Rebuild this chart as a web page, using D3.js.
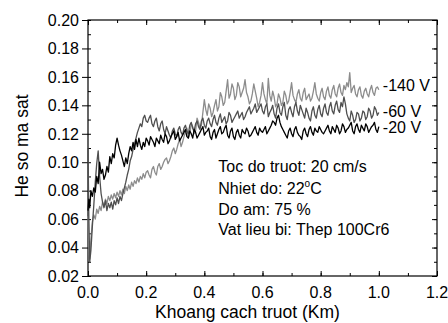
<!DOCTYPE html>
<html>
<head>
<meta charset="utf-8">
<script src="https://cdn.jsdelivr.net/npm/d3@7/dist/d3.min.js"></script>
<style>
  body { margin: 0; background: #fff; }
  text { font-family: "Liberation Sans", Arial, sans-serif; fill: #000; }
</style>
</head>
<body>
<div id="chart"></div>
<script>
// distance (Km)
const distance = [
  0, 0.003, 0.006, 0.01, 0.015, 0.02, 0.025, 0.03, 0.035, 0.04, 0.045, 0.05, 0.055, 0.06, 0.065,
  0.07, 0.075, 0.08, 0.085, 0.09, 0.095, 0.1, 0.105, 0.11, 0.115, 0.12, 0.125, 0.13, 0.135, 0.14,
  0.145, 0.15, 0.155, 0.16, 0.165, 0.17, 0.175, 0.18, 0.185, 0.19, 0.195, 0.2,
  0.205, 0.21, 0.215, 0.22, 0.225, 0.23, 0.235, 0.24, 0.245, 0.25, 0.255, 0.26, 0.265, 0.27, 0.275, 0.28, 0.285, 0.29, 0.295, 0.30,
  0.305, 0.31, 0.315, 0.32, 0.325, 0.33, 0.335, 0.34, 0.345, 0.35, 0.355, 0.36, 0.365, 0.37, 0.375, 0.38, 0.385, 0.39, 0.395, 0.40,
  0.405, 0.41, 0.415, 0.42, 0.425, 0.43, 0.435, 0.44, 0.445, 0.45, 0.455, 0.46, 0.465, 0.47, 0.475, 0.48, 0.485, 0.49, 0.495, 0.50,
  0.505, 0.51, 0.515, 0.52, 0.525, 0.53, 0.535, 0.54, 0.545, 0.55, 0.555, 0.56, 0.565, 0.57, 0.575, 0.58, 0.585, 0.59, 0.595, 0.60,
  0.605, 0.61, 0.615, 0.62, 0.625, 0.63, 0.635, 0.64, 0.645, 0.65, 0.655, 0.66, 0.665, 0.67, 0.675, 0.68, 0.685, 0.69, 0.695, 0.70,
  0.705, 0.71, 0.715, 0.72, 0.725, 0.73, 0.735, 0.74, 0.745, 0.75, 0.755, 0.76, 0.765, 0.77, 0.775, 0.78, 0.785, 0.79, 0.795, 0.80,
  0.805, 0.81, 0.815, 0.82, 0.825, 0.83, 0.835, 0.84, 0.845, 0.85, 0.855, 0.86, 0.865, 0.87, 0.875, 0.88, 0.885, 0.89, 0.895, 0.90,
  0.905, 0.91, 0.915, 0.92, 0.925, 0.93, 0.935, 0.94, 0.945, 0.95, 0.955, 0.96, 0.965, 0.97, 0.975, 0.98, 0.985, 0.99, 0.995, 1.00
];

// -140 V
const mu140 = [
  0.062, 0.040, 0.032, 0.046, 0.058, 0.063, 0.060, 0.067, 0.064, 0.069, 0.066, 0.072, 0.069, 0.074,
  0.071, 0.076, 0.073, 0.077, 0.074, 0.078, 0.075, 0.079, 0.076, 0.080, 0.077, 0.081, 0.078, 0.083,
  0.080, 0.084, 0.081, 0.086, 0.083, 0.087, 0.085, 0.089, 0.086, 0.090, 0.088, 0.092, 0.089, 0.093,
  0.094, 0.091, 0.089, 0.095, 0.097, 0.093, 0.091, 0.097, 0.099, 0.095, 0.097, 0.100, 0.102, 0.103, 0.099, 0.101, 0.104, 0.108, 0.110, 0.106,
  0.109, 0.113, 0.116, 0.111, 0.114, 0.118, 0.121, 0.124, 0.117, 0.120, 0.127, 0.125, 0.120, 0.122, 0.131, 0.128, 0.124, 0.126, 0.135, 0.144,
  0.137, 0.133, 0.141, 0.138, 0.132, 0.135, 0.140, 0.144, 0.136, 0.139, 0.149, 0.146, 0.140, 0.142, 0.150, 0.158, 0.145, 0.148, 0.155, 0.152,
  0.144, 0.147, 0.156, 0.153, 0.146, 0.149, 0.152, 0.158, 0.149, 0.146, 0.141, 0.143, 0.148, 0.155, 0.150, 0.145, 0.139, 0.142, 0.147, 0.156,
  0.148, 0.144, 0.141, 0.159, 0.147, 0.143, 0.150, 0.146, 0.139, 0.141, 0.148, 0.145, 0.140, 0.142, 0.150, 0.147, 0.141, 0.143, 0.149, 0.156,
  0.147, 0.144, 0.142, 0.148, 0.151, 0.145, 0.143, 0.149, 0.152, 0.144, 0.146, 0.148, 0.143, 0.145, 0.150, 0.156, 0.148, 0.145, 0.143, 0.149,
  0.152, 0.146, 0.144, 0.150, 0.153, 0.147, 0.145, 0.151, 0.154, 0.148, 0.146, 0.152, 0.155, 0.149, 0.147, 0.154, 0.151, 0.156, 0.153, 0.163,
  0.149, 0.152, 0.154, 0.148, 0.146, 0.151, 0.153, 0.147, 0.145, 0.150, 0.152, 0.148, 0.146, 0.151, 0.154, 0.149, 0.147, 0.152, 0.153, 0.151
];

// -60 V
const mu60 = [
  0.110, 0.060, 0.030, 0.038, 0.055, 0.070, 0.086, 0.099, 0.108, 0.090, 0.078, 0.072, 0.068, 0.073,
  0.066, 0.071, 0.068, 0.072, 0.067, 0.073, 0.070, 0.075, 0.071, 0.076, 0.073, 0.078, 0.082, 0.086,
  0.091, 0.095, 0.101, 0.104, 0.109, 0.113, 0.117, 0.121, 0.124, 0.127, 0.125, 0.131, 0.133, 0.129,
  0.128, 0.131, 0.133, 0.127, 0.125, 0.129, 0.131, 0.125, 0.122, 0.127, 0.129, 0.123, 0.120, 0.125, 0.122, 0.119, 0.117, 0.122, 0.124, 0.120,
  0.118, 0.123, 0.125, 0.121, 0.119, 0.124, 0.126, 0.122, 0.120, 0.126, 0.128, 0.124, 0.122, 0.127, 0.129, 0.125, 0.123, 0.129, 0.131, 0.126,
  0.124, 0.129, 0.131, 0.127, 0.125, 0.130, 0.133, 0.128, 0.126, 0.131, 0.134, 0.128, 0.130, 0.132, 0.127, 0.129, 0.135, 0.133, 0.128, 0.130,
  0.132, 0.134, 0.136, 0.131, 0.133, 0.135, 0.130, 0.132, 0.135, 0.137, 0.139, 0.134, 0.136, 0.138, 0.141, 0.135, 0.137, 0.139, 0.141, 0.136,
  0.134, 0.139, 0.141, 0.132, 0.135, 0.137, 0.140, 0.134, 0.131, 0.138, 0.141, 0.135, 0.133, 0.139, 0.142, 0.133, 0.130, 0.137, 0.139, 0.135,
  0.132, 0.139, 0.142, 0.136, 0.133, 0.140, 0.137, 0.134, 0.131, 0.138, 0.135, 0.131, 0.129, 0.136, 0.139, 0.133, 0.131, 0.137, 0.140, 0.134,
  0.132, 0.138, 0.141, 0.135, 0.133, 0.139, 0.142, 0.136, 0.134, 0.140, 0.143, 0.137, 0.135, 0.142, 0.139, 0.146, 0.141, 0.134, 0.131, 0.129,
  0.136, 0.133, 0.128, 0.130, 0.135, 0.134, 0.129, 0.131, 0.136, 0.135, 0.130, 0.132, 0.138, 0.136, 0.131, 0.133, 0.139, 0.137, 0.133, 0.135
];

// -20 V
const mu20 = [
  0.066, 0.074, 0.068, 0.080, 0.076, 0.082, 0.079, 0.090, 0.085, 0.100, 0.092, 0.095, 0.088, 0.091,
  0.097, 0.093, 0.104, 0.099, 0.106, 0.103, 0.112, 0.117, 0.112, 0.108, 0.105, 0.101, 0.097, 0.103,
  0.099, 0.106, 0.111, 0.108, 0.114, 0.109, 0.116, 0.111, 0.117, 0.112, 0.109, 0.114, 0.111, 0.117,
  0.115, 0.112, 0.118, 0.116, 0.114, 0.111, 0.117, 0.115, 0.113, 0.119, 0.116, 0.114, 0.120, 0.118, 0.113, 0.115, 0.118, 0.120, 0.122, 0.116,
  0.118, 0.121, 0.115, 0.117, 0.119, 0.121, 0.123, 0.118, 0.117, 0.122, 0.120, 0.117, 0.123, 0.121, 0.117, 0.119, 0.121, 0.123, 0.125, 0.119,
  0.121, 0.122, 0.124, 0.118, 0.116, 0.121, 0.123, 0.117, 0.120, 0.123, 0.125, 0.120, 0.121, 0.124, 0.126, 0.119, 0.117, 0.122, 0.124, 0.118,
  0.116, 0.121, 0.123, 0.119, 0.117, 0.123, 0.121, 0.120, 0.124, 0.122, 0.118, 0.119, 0.121, 0.123, 0.125, 0.121, 0.119, 0.124, 0.122, 0.121,
  0.123, 0.125, 0.120, 0.122, 0.124, 0.126, 0.129, 0.128, 0.126, 0.131, 0.133, 0.128, 0.125, 0.123, 0.121, 0.119, 0.117, 0.122, 0.124, 0.120,
  0.118, 0.123, 0.125, 0.121, 0.119, 0.118, 0.116, 0.122, 0.124, 0.120, 0.118, 0.123, 0.125, 0.121, 0.119, 0.124, 0.122, 0.121, 0.125, 0.123,
  0.121, 0.120, 0.122, 0.124, 0.126, 0.122, 0.120, 0.125, 0.123, 0.121, 0.126, 0.124, 0.120, 0.122, 0.127, 0.125, 0.121, 0.123, 0.124, 0.126,
  0.128, 0.122, 0.120, 0.125, 0.127, 0.123, 0.121, 0.126, 0.124, 0.122, 0.127, 0.125, 0.121, 0.123, 0.125, 0.126, 0.128, 0.123, 0.121, 0.125
];

const seriesNames = ["-140 V", "-60 V", "-20 V"];
const xTicks = [0, 0.2, 0.4, 0.6, 0.8, 1.0, 1.2];
const yTicks = [0.02, 0.04, 0.06, 0.08, 0.10, 0.12, 0.14, 0.16, 0.18, 0.20];
const notes = ["Toc do truot: 20 cm/s", "Nhiet do: 22", "Do am: 75 %", "Vat lieu bi: Thep 100Cr6"];

const width = 448, height = 323;
const margin = {top: 20, right: 11, bottom: 47, left: 88};
const w = width - margin.left - margin.right;
const h = height - margin.top - margin.bottom;

const svg = d3.select("#chart").append("svg")
  .attr("width", width)
  .attr("height", height);

const g = svg.append("g").attr("transform", `translate(${margin.left},${margin.top})`);

const x = d3.scaleLinear().domain([0, 1.2]).range([0, w]);
const y = d3.scaleLinear().domain([0.02, 0.20]).range([h, 0]);

const xMinor = d3.range(0, 1.21, 0.1);
const yMinor = d3.range(0.02, 0.2001, 0.01);

// frame + ticks
function tickAxis(axis, sel) {
  sel.call(axis);
  sel.select(".domain").remove();
  sel.selectAll("line").attr("stroke", "#000");
}

// bottom: ticks pointing in
tickAxis(d3.axisBottom(x).tickValues(xMinor).tickSize(-3).tickFormat(""),
  g.append("g").attr("transform", `translate(0,${h})`));
tickAxis(d3.axisBottom(x).tickValues(xTicks).tickSize(-5).tickFormat(""),
  g.append("g").attr("transform", `translate(0,${h})`));
// top
tickAxis(d3.axisTop(x).tickValues(xMinor).tickSize(-3).tickFormat(""), g.append("g"));
tickAxis(d3.axisTop(x).tickValues(xTicks).tickSize(-5).tickFormat(""), g.append("g"));
// left: major out, minor in
tickAxis(d3.axisLeft(y).tickValues(yMinor).tickSize(-3).tickFormat(""), g.append("g"));
tickAxis(d3.axisLeft(y).tickValues(yTicks).tickSize(6).tickFormat(""), g.append("g"));
// right
tickAxis(d3.axisRight(y).tickValues(yMinor).tickSize(-3).tickFormat(""),
  g.append("g").attr("transform", `translate(${w},0)`));
tickAxis(d3.axisRight(y).tickValues(yTicks).tickSize(-5).tickFormat(""),
  g.append("g").attr("transform", `translate(${w},0)`));

g.append("rect")
  .attr("width", w).attr("height", h)
  .attr("fill", "none").attr("stroke", "#000").attr("stroke-width", 1.2);

// tick labels
g.selectAll(".xl").data(xTicks).enter().append("text")
  .attr("x", d => x(d)).attr("y", h + 22)
  .attr("text-anchor", "middle").style("font-size", "16px")
  .text(d3.format(".1f"));

g.selectAll(".yl").data(yTicks).enter().append("text")
  .attr("x", -9).attr("y", d => y(d)).attr("dy", "0.36em")
  .attr("text-anchor", "end").style("font-size", "16px")
  .text(d3.format(".2f"));

// axis titles
g.append("text")
  .attr("x", w / 2 - 15).attr("y", h + 42)
  .attr("text-anchor", "middle").style("font-size", "17.5px")
  .text("Khoang cach truot (Km)");

g.append("text")
  .attr("transform", `translate(${-60},${h / 2 - 2}) rotate(-90)`)
  .attr("text-anchor", "middle").style("font-size", "17.5px")
  .text("He so ma sat");

// curves
const series = [
  {name: seriesNames[0], values: mu140, color: "#8c8c8c", dy: -4},
  {name: seriesNames[1], values: mu60, color: "#4f4f4f", dy: -1},
  {name: seriesNames[2], values: mu20, color: "#000000", dy: 1}
];

const line = d3.line()
  .x((d, i) => x(distance[i]))
  .y(d => y(d));

g.selectAll(".curve").data(series).enter().append("path")
  .attr("class", "curve")
  .attr("d", d => line(d.values))
  .attr("fill", "none")
  .attr("stroke", d => d.color)
  .attr("stroke-width", 1.3)
  .attr("stroke-linejoin", "round");

g.selectAll(".lab").data(series).enter().append("text")
  .attr("x", x(distance[distance.length - 1]) + 4)
  .attr("y", d => y(d.values[d.values.length - 1]) + d.dy)
  .attr("dy", "0.36em")
  .style("font-size", "16px")
  .text(d => d.name);

// conditions
const notesG = g.append("g").attr("transform", `translate(${x(0.448)},0)`);
notes.forEach((t, i) => {
  const txt = notesG.append("text")
    .attr("y", [152, 174, 195, 215][i])
    .style("font-size", "16px")
    .text(t);
  if (i === 1) {
    txt.append("tspan").attr("dy", -7).style("font-size", "10px").text("o");
    txt.append("tspan").attr("dy", 7).text("C");
  }
});
</script>
</body>
</html>
